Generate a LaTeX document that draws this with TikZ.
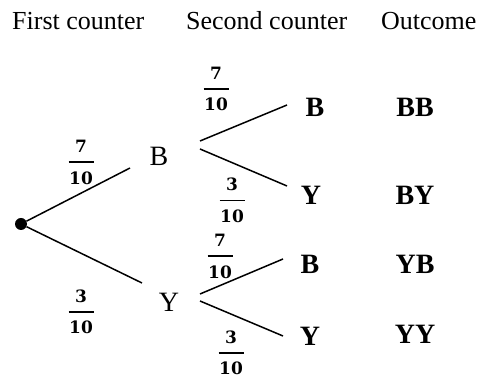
\documentclass[tikz,border=0pt]{standalone}
\usepackage{fontspec}
\setmainfont{Liberation Serif}
\newfontfamily\fracfont{DejaVu Serif}
\newcommand\fr[2]{\vbox{\fracfont\bfseries\fontsize{17}{17}\selectfont
  \hbox to 25pt{\hss#1\hss}\kern8.5pt\hrule height 1.6pt\kern8.5pt\hbox to 25pt{\hss#2\hss}}}
\begin{document}
\begin{tikzpicture}[x=1pt,y=1pt,
  lbl/.style={font=\fontsize{28}{28}\selectfont, inner sep=0pt},
  res/.style={font=\fontsize{28}{28}\selectfont\bfseries, inner sep=0pt},
  hdr/.style={font=\fontsize{26}{26}\selectfont, anchor=base west, inner sep=0pt},
  frac/.style={inner sep=0pt},
  br/.style={line width=1.5pt}]
\useasboundingbox (0,0) rectangle (479,379);
% headers
\node[hdr] (h1) at (12,349.5) {First counter};
\node[hdr] (h2) at (186,349.5) {Second counter};
\node[hdr] (h3) at (381,349.5) {Outcome};
% root
\node[circle, fill, inner sep=0pt, minimum size=12pt] (root) at (21,155) {};
% first level
\node[lbl] (B1) at (159,223) {B};
\node[lbl] (Y1) at (169,77) {Y};
% second level
\node[res] (B2) at (315,272) {B};
\node[res] (Y2) at (311,184) {Y};
\node[res] (B3) at (310,115) {B};
\node[res] (Y3) at (310,43) {Y};
% outcomes
\node[res] (BB) at (415,272) {BB};
\node[res] (BY) at (415,184) {BY};
\node[res] (YB) at (415,115) {YB};
\node[res] (YY) at (415,45) {YY};
% connector ends
\coordinate (B1in) at (130,211);
\coordinate (Y1in) at (142,96);
\coordinate (B1a) at (200,238);
\coordinate (B1b) at (200,230);
\coordinate (B2in) at (287,274);
\coordinate (Y2in) at (287,193);
\coordinate (Y1a) at (200,85);
\coordinate (Y1b) at (200,78);
\coordinate (B3in) at (283,120);
\coordinate (Y3in) at (283,43);
\draw[br] (root) -- (B1in);
\draw[br] (root) -- (Y1in);
\draw[br] (B1a) -- (B2in);
\draw[br] (B1b) -- (Y2in);
\draw[br] (Y1a) -- (B3in);
\draw[br] (Y1b) -- (Y3in);
% probabilities
\node[frac] (p1) at (81,216.5) {\fr{7}{10}};
\node[frac] (p2) at (81,67) {\fr{3}{10}};
\node[frac] (p3) at (216,290) {\fr{7}{10}};
\node[frac] (p4) at (232,178.5) {\fr{3}{10}};
\node[frac] (p5) at (220,122.5) {\fr{7}{10}};
\node[frac] (p6) at (231,26) {\fr{3}{10}};
\end{tikzpicture}
\end{document}
